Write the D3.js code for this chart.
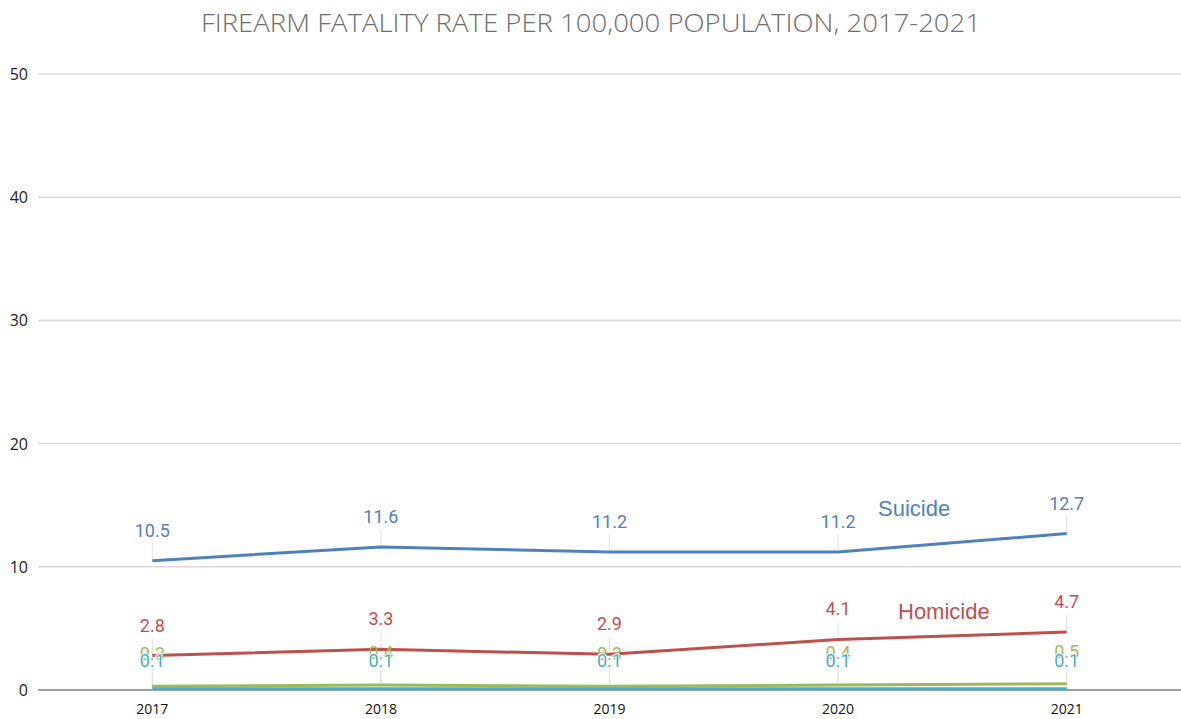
<!DOCTYPE html>
<html>
<head>
<meta charset="utf-8">
<script src="https://cdn.jsdelivr.net/npm/d3@7"></script>
<style>
  body { margin: 0; background: #fff; }
  svg { display: block; }
</style>
</head>
<body>
<div id="chart"></div>
<script>
// data
var years = ["2017", "2018", "2019", "2020", "2021"];
var suicide = [10.5, 11.6, 11.2, 11.2, 12.7];
var homicide = [2.8, 3.3, 2.9, 4.1, 4.7];
var otherGreen = [0.3, 0.4, 0.3, 0.4, 0.5];
var otherCyan = [0.1, 0.1, 0.1, 0.1, 0.1];
var yTicks = [0, 10, 20, 30, 40, 50];

function init() {
  var w = 1181;
  var h = 719;
  var plotLeft = 38, plotTop = 74, plotBottom = 690;

  var svg = d3.select("#chart")
    .append("svg")
    .attr("width", w)
    .attr("height", h);

  // scales
  var x = d3.scalePoint()
    .domain(years)
    .range([plotLeft, w])
    .padding(0.5);

  var y = d3.scaleLinear()
    .domain([0, 50])
    .range([plotBottom, plotTop]);

  // title
  svg.append("text")
    .attr("x", 591)
    .attr("y", 32)
    .attr("text-anchor", "middle")
    .attr("font-family", "'Open Sans', sans-serif")
    .attr("font-weight", 300)
    .attr("font-size", "26px")
    .attr("fill", "#6e6e6e")
    .attr("textLength", 780)
    .attr("lengthAdjust", "spacingAndGlyphs")
    .text("FIREARM FATALITY RATE PER 100,000 POPULATION, 2017-2021");

  // gridlines
  svg.append("g")
    .selectAll("line")
    .data(yTicks.filter(function(d) { return d > 0; }))
    .enter()
    .append("line")
    .attr("x1", plotLeft)
    .attr("x2", w)
    .attr("y1", function(d) { return y(d); })
    .attr("y2", function(d) { return y(d); })
    .attr("stroke", "#d9d9d9")
    .attr("stroke-width", 1.5);

  // y tick labels
  svg.append("g")
    .selectAll("text")
    .data(yTicks)
    .enter()
    .append("text")
    .attr("x", 28)
    .attr("y", function(d) { return y(d) + 6; })
    .attr("text-anchor", "end")
    .attr("font-family", "'Open Sans', sans-serif")
    .attr("font-size", "16px")
    .attr("fill", "#222")
    .text(function(d) { return d; });

  // x labels
  svg.append("g")
    .selectAll("text")
    .data(years)
    .enter()
    .append("text")
    .attr("x", function(d) { return x(d); })
    .attr("y", 714)
    .attr("text-anchor", "middle")
    .attr("font-family", "'Open Sans', sans-serif")
    .attr("font-size", "14px")
    .attr("fill", "#111")
    .text(function(d) { return d; });

  // labelOff: how far the data label sits above its point
  var series = [
    { name: "green", values: otherGreen, color: "#9bbb59", labelOff: 30 },
    { name: "cyan", values: otherCyan, color: "#4bacc6", labelOff: 26 },
    { name: "Homicide", values: homicide, color: "#c0504d", labelOff: 28 },
    { name: "Suicide", values: suicide, color: "#4f81bd", labelOff: 28 }
  ];

  // leader lines
  series.forEach(function(s) {
    svg.append("g")
      .selectAll("line")
      .data(s.values)
      .enter()
      .append("line")
      .attr("x1", function(d, i) { return x(years[i]); })
      .attr("x2", function(d, i) { return x(years[i]); })
      .attr("y1", function(d) { return y(d) - s.labelOff + 10; })
      .attr("y2", function(d) { return y(d); })
      .attr("stroke", "#e0e0e0")
      .attr("stroke-width", 1);
  });

  // zero axis line
  svg.append("line")
    .attr("x1", plotLeft)
    .attr("x2", w)
    .attr("y1", y(0))
    .attr("y2", y(0))
    .attr("stroke", "#7f7f7f")
    .attr("stroke-width", 1.5);

  var line = d3.line()
    .x(function(d, i) { return x(years[i]); })
    .y(function(d) { return y(d); });

  series.forEach(function(s) {
    svg.append("path")
      .datum(s.values)
      .attr("d", line)
      .attr("fill", "none")
      .attr("stroke", s.color)
      .attr("stroke-width", 3);
  });

  // data labels
  series.forEach(function(s) {
    svg.append("g")
      .selectAll("text")
      .data(s.values)
      .enter()
      .append("text")
      .attr("x", function(d, i) { return x(years[i]); })
      .attr("y", function(d) { return y(d) - s.labelOff + 4; })
      .attr("text-anchor", "middle")
      .attr("font-family", "Roboto, sans-serif")
      .attr("font-size", "18px")
      .attr("fill", s.color)
      .attr("stroke", s.name == "cyan" ? "#fff" : "none")
      .attr("stroke-width", 2)
      .attr("paint-order", "stroke")
      .text(function(d) { return d.toFixed(1); });
  });

  // series names
  svg.append("text")
    .attr("x", 878)
    .attr("y", 516)
    .attr("font-family", "'Liberation Sans', Arial, sans-serif")
    .attr("font-size", "22px")
    .attr("fill", "#4f81bd")
    .text("Suicide");

  svg.append("text")
    .attr("x", 898)
    .attr("y", 619)
    .attr("font-family", "'Liberation Sans', Arial, sans-serif")
    .attr("font-size", "22px")
    .attr("fill", "#c0504d")
    .text("Homicide");
}

window.onload = init;
</script>
</body>
</html>
